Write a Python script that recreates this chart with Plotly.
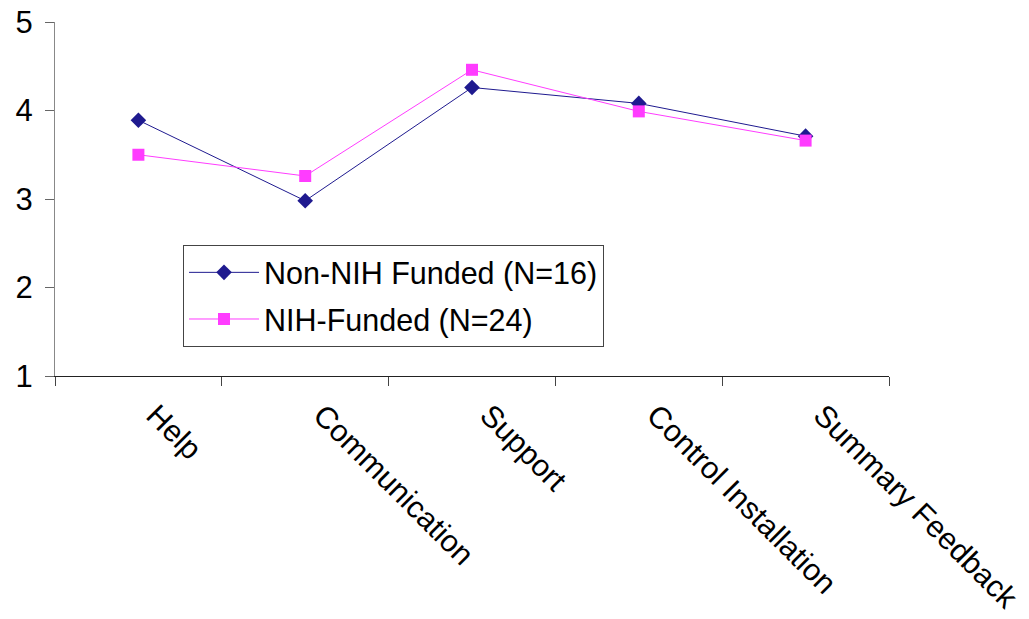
import plotly.graph_objects as go

categories = ["Help", "Communication", "Support", "Control Installation", "Summary Feedback"]
non_nih = [3.89, 2.98, 4.26, 4.08, 3.71]
nih = [3.50, 3.26, 4.46, 3.99, 3.66]
y_ticks = [1, 2, 3, 4, 5]

FONT = "Liberation Sans, Arial, sans-serif"
NAVY = "#1f1a8f"
MAGENTA = "#ff3cff"

fig = go.Figure()
fig.add_trace(go.Scatter(
    x=categories, y=non_nih, name="Non-NIH Funded (N=16)",
    mode="lines+markers", legendgroup="a",
    line=dict(color=NAVY, width=1),
    marker=dict(symbol="diamond", size=12, color=NAVY),
))
fig.add_trace(go.Scatter(
    x=categories, y=nih, name="NIH-Funded (N=24)",
    mode="lines+markers", legendgroup="b",
    line=dict(color=MAGENTA, width=1),
    marker=dict(symbol="square", size=12, color=MAGENTA),
))

fig.update_layout(
    width=1029, height=619,
    margin=dict(l=55, r=140, t=22, b=243, autoexpand=False),
    paper_bgcolor="white", plot_bgcolor="white",
    font=dict(family=FONT, size=30, color="black"),
    showlegend=True,
    legend=dict(
        x=0.1535, y=0.37, xanchor="left", yanchor="top",
        bordercolor="#444", borderwidth=1, bgcolor="white",
        font=dict(family=FONT, size=30.5, color="black"),
        traceorder="grouped", tracegroupgap=4, itemwidth=70,
    ),
    xaxis=dict(
        type="category", range=[-0.5, 4.5], automargin=False,
        showline=True, linecolor="#222", linewidth=1,
        ticks="outside", ticklen=9, tickcolor="#444", tickson="boundaries",
        tickangle=45, showgrid=False, zeroline=False,
        ticklabelstandoff=8, ticklabelshift=17,
        tickfont=dict(family=FONT, size=30.5, color="black"),
    ),
    yaxis=dict(
        range=[1, 5], tickvals=y_ticks, automargin=False,
        showline=True, linecolor="#888", linewidth=1,
        ticks="outside", ticklen=9, tickcolor="#666",
        showgrid=False, zeroline=False, ticklabelstandoff=6,
        tickfont=dict(family=FONT, size=31, color="black"),
    ),
)

fig.write_html("out.html")
